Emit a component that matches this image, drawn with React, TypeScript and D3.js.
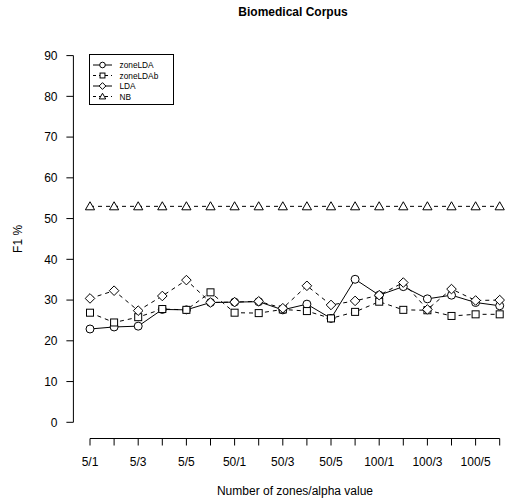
import React from "react";
import * as d3 from "d3";

const categories = [
  "5/1", "5/2", "5/3", "5/4", "5/5", "5/6",
  "50/1", "50/2", "50/3", "50/4", "50/5", "50/6",
  "100/1", "100/2", "100/3", "100/4", "100/5", "100/6",
];
const zoneLDA = [22.9, 23.4, 23.6, 27.7, 27.6, 29.4, 29.5, 29.6, 27.6, 29.0, 25.5, 35.1, 31.2, 33.3, 30.3, 31.2, 29.4, 28.6];
const zoneLDAb = [26.9, 24.5, 25.8, 27.8, 27.6, 31.9, 26.9, 26.8, 27.7, 27.3, 25.5, 27.1, 29.6, 27.6, 27.5, 26.1, 26.5, 26.5];
const LDA = [30.4, 32.3, 27.4, 31.0, 34.9, 29.4, 29.5, 29.7, 28.0, 33.5, 28.8, 29.8, 31.2, 34.3, 27.7, 32.7, 29.9, 30.0];
const NB = [53, 53, 53, 53, 53, 53, 53, 53, 53, 53, 53, 53, 53, 53, 53, 53, 53, 53];
const yTicks = [0, 10, 20, 30, 40, 50, 60, 70, 80, 90];

type Sym = "circle" | "square" | "diamond" | "triangle";
const seriesList: { name: string; values: number[]; dash: string | null; sym: Sym; legendDash: string | null }[] = [
  { name: "zoneLDA", values: zoneLDA, dash: null, sym: "circle", legendDash: null },
  { name: "zoneLDAb", values: zoneLDAb, dash: "4,4", sym: "square", legendDash: "3,3" },
  { name: "LDA", values: LDA, dash: "4,4", sym: "diamond", legendDash: null },
  { name: "NB", values: NB, dash: "4,4", sym: "triangle", legendDash: "3,3" },
];

const FONT = "'Liberation Sans', Arial, Helvetica, sans-serif";

function Symbol({ type, cx, cy, s = 1 }: { type: Sym; cx: number; cy: number; s?: number }) {
  const common = { fill: "white", stroke: "black", strokeWidth: 1 };
  if (type === "circle") return <circle cx={cx} cy={cy} r={4 * s} {...common} />;
  if (type === "square") return <rect x={cx - 3.5 * s} y={cy - 3.5 * s} width={7 * s} height={7 * s} {...common} />;
  if (type === "diamond") {
    const r = 4.8 * s;
    return <path d={`M${cx},${cy - r}L${cx + r},${cy}L${cx},${cy + r}L${cx - r},${cy}Z`} {...common} />;
  }
  const r = 4.6 * s;
  return <path d={`M${cx},${cy - r}L${cx + r},${cy + r * 0.75}L${cx - r},${cy + r * 0.75}Z`} {...common} />;
}

export default function App() {
  const W = 506, H = 501;
  const x = d3.scaleLinear().domain([0, categories.length - 1]).range([90, 499.7]);
  const y = d3.scaleLinear().domain([0, 90]).range([422.3, 55.6]);
  const line = d3.line<number>().x((_, i) => x(i)).y((d) => y(d));
  const axisY = 438.5;
  const axisX = 73.4;
  const cx = 293;

  const legendRows = [65, 75.5, 86, 96.5];

  return (
    <svg width={W} height={H} style={{ position: "absolute", left: 0, top: 0 }} fontFamily={FONT}>
      <rect width={W} height={H} fill="white" />
      <text x={cx} y={16} textAnchor="middle" fontWeight="bold" fontSize={12}>Biomedical Corpus</text>

      {/* Y axis */}
      <line x1={axisX} x2={axisX} y1={y(0)} y2={y(90)} stroke="black" />
      {yTicks.map((t) => (
        <g key={t}>
          <line x1={axisX - 7} x2={axisX} y1={y(t)} y2={y(t)} stroke="black" />
          <text x={57.5} y={y(t) + 4.3} textAnchor="end" fontSize={12}>{t}</text>
        </g>
      ))}
      <text transform={`translate(22,${(y(0) + y(90)) / 2}) rotate(-90)`} textAnchor="middle" fontSize={12}>F1 %</text>

      {/* X axis */}
      <line x1={x(0)} x2={x(categories.length - 1)} y1={axisY} y2={axisY} stroke="black" />
      {categories.map((c, i) => (
        <g key={c}>
          <line x1={x(i)} x2={x(i)} y1={axisY} y2={axisY + 7} stroke="black" />
          {i % 2 === 0 && (
            <text x={x(i)} y={466} textAnchor="middle" fontSize={12}>{c}</text>
          )}
        </g>
      ))}
      <text x={295} y={495} textAnchor="middle" fontSize={12}>Number of zones/alpha value</text>

      {/* Series */}
      {seriesList.map((s) => (
        <g key={s.name}>
          <path d={line(s.values) || ""} fill="none" stroke="black" strokeWidth={1} strokeDasharray={s.dash || undefined} />
          {s.values.map((v, i) => (
            <Symbol key={i} type={s.sym} cx={x(i)} cy={y(v)} />
          ))}
        </g>
      ))}

      {/* Legend */}
      <rect x={89.5} y={54.5} width={84} height={50} fill="white" stroke="black" />
      {seriesList.map((s, i) => (
        <g key={s.name}>
          <line x1={93} x2={112} y1={legendRows[i]} y2={legendRows[i]} stroke="black" strokeDasharray={s.legendDash || undefined} />
          <Symbol type={s.sym} cx={102.5} cy={legendRows[i]} s={0.7} />
          <text x={119.5} y={legendRows[i] + 3} fontSize={8.3}>{s.name}</text>
        </g>
      ))}
    </svg>
  );
}
